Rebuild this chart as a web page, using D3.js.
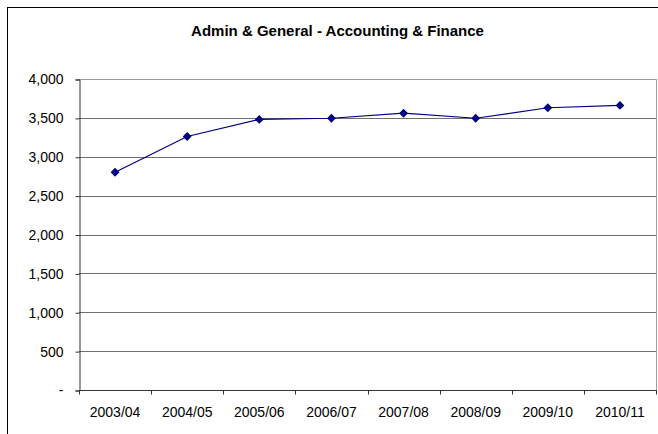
<!DOCTYPE html>
<html>
<head>
<meta charset="utf-8">
<script src="https://cdn.jsdelivr.net/npm/d3@7"></script>
<style>
  html, body { margin: 0; padding: 0; background: #fff; }
  svg { display: block; }
  text { font-family: Arial, "Liberation Sans", sans-serif; fill: #000; }
</style>
</head>
<body>
<svg id="chart" width="658" height="434"></svg>
<script>
// Staff numbers by financial year
const title = "Admin & General - Accounting & Finance";
const years = ["2003/04", "2004/05", "2005/06", "2006/07", "2007/08", "2008/09", "2009/10", "2010/11"];
const values = [2800, 3260, 3480, 3495, 3560, 3495, 3630, 3660];
const yTicks = [0, 500, 1000, 1500, 2000, 2500, 3000, 3500, 4000];

const svg = d3.select("#chart");
const plot = { left: 79, top: 79, right: 656, bottom: 390 };

// Outer chart frame (extends past the right and bottom of the window)
svg.append("rect")
  .attr("x", 7.5).attr("y", 7.5)
  .attr("width", 680).attr("height", 460)
  .attr("fill", "#fff").attr("stroke", "#000").attr("stroke-width", 1);

svg.append("text")
  .attr("x", 337.5).attr("y", 35.5)
  .attr("text-anchor", "middle")
  .attr("font-size", "15px").attr("font-weight", "bold")
  .text(title);

const x = d3.scaleBand().domain(years).range([plot.left, plot.right]);
const y = d3.scaleLinear().domain([0, 4000]).range([plot.bottom, plot.top]);

// Horizontal gridlines
svg.append("g").selectAll("line")
  .data(yTicks.filter(v => v > 0))
  .join("line")
  .attr("x1", plot.left).attr("x2", plot.right)
  .attr("y1", d => Math.round(y(d)) + 0.5).attr("y2", d => Math.round(y(d)) + 0.5)
  .attr("stroke", d => d === 4000 ? "#9a9a9a" : "#6e6e6e").attr("stroke-width", 1);

// Right edge of the plot area
svg.append("line")
  .attr("x1", plot.right + 0.5).attr("x2", plot.right + 0.5)
  .attr("y1", plot.top).attr("y2", plot.bottom)
  .attr("stroke", "#a0a0a0");

// Y axis
const yAxis = d3.axisLeft(y)
  .tickValues(yTicks)
  .tickSize(4).tickPadding(12)
  .tickFormat(d => d === 0 ? "-" : d3.format(",")(d));
const gy = svg.append("g")
  .attr("transform", `translate(${plot.left + 0.5},0.5)`)
  .call(yAxis);
gy.select(".domain").attr("stroke", "#333");
gy.selectAll(".tick line").attr("stroke", "#333");
gy.selectAll("text").attr("font-size", "14px").attr("font-family", "Arial, 'Liberation Sans', sans-serif").attr("fill", "#000");

// X axis with tick marks between categories
const gx = svg.append("g").attr("transform", `translate(0,${plot.bottom + 0.5})`);
gx.append("line")
  .attr("x1", plot.left).attr("x2", plot.right + 1)
  .attr("stroke", "#333");
const bounds = years.map(d => x(d)).concat([plot.right]);
gx.selectAll("line.tick")
  .data(bounds)
  .join("line").attr("class", "tick")
  .attr("x1", d => Math.round(d) + 0.5).attr("x2", d => Math.round(d) + 0.5)
  .attr("y1", 0).attr("y2", 4)
  .attr("stroke", "#333");
gx.selectAll("text")
  .data(years)
  .join("text")
  .attr("x", d => x(d) + x.bandwidth() / 2)
  .attr("y", 26)
  .attr("text-anchor", "middle")
  .attr("font-size", "14px")
  .text(d => d);

// Series line and diamond markers
const cx = d => x(d) + x.bandwidth() / 2;
svg.append("path")
  .datum(years.map((d, i) => [cx(d), y(values[i])]))
  .attr("fill", "none")
  .attr("stroke", "#000080").attr("stroke-width", 1.2)
  .attr("d", d3.line());

svg.append("g").selectAll("path")
  .data(years.map((d, i) => ({ year: d, value: values[i] })))
  .join("path")
  .attr("transform", d => `translate(${cx(d.year)},${y(d.value)})`)
  .attr("d", d3.symbol(d3.symbolDiamond2, 50)())
  .attr("fill", "#000080");
</script>
</body>
</html>
